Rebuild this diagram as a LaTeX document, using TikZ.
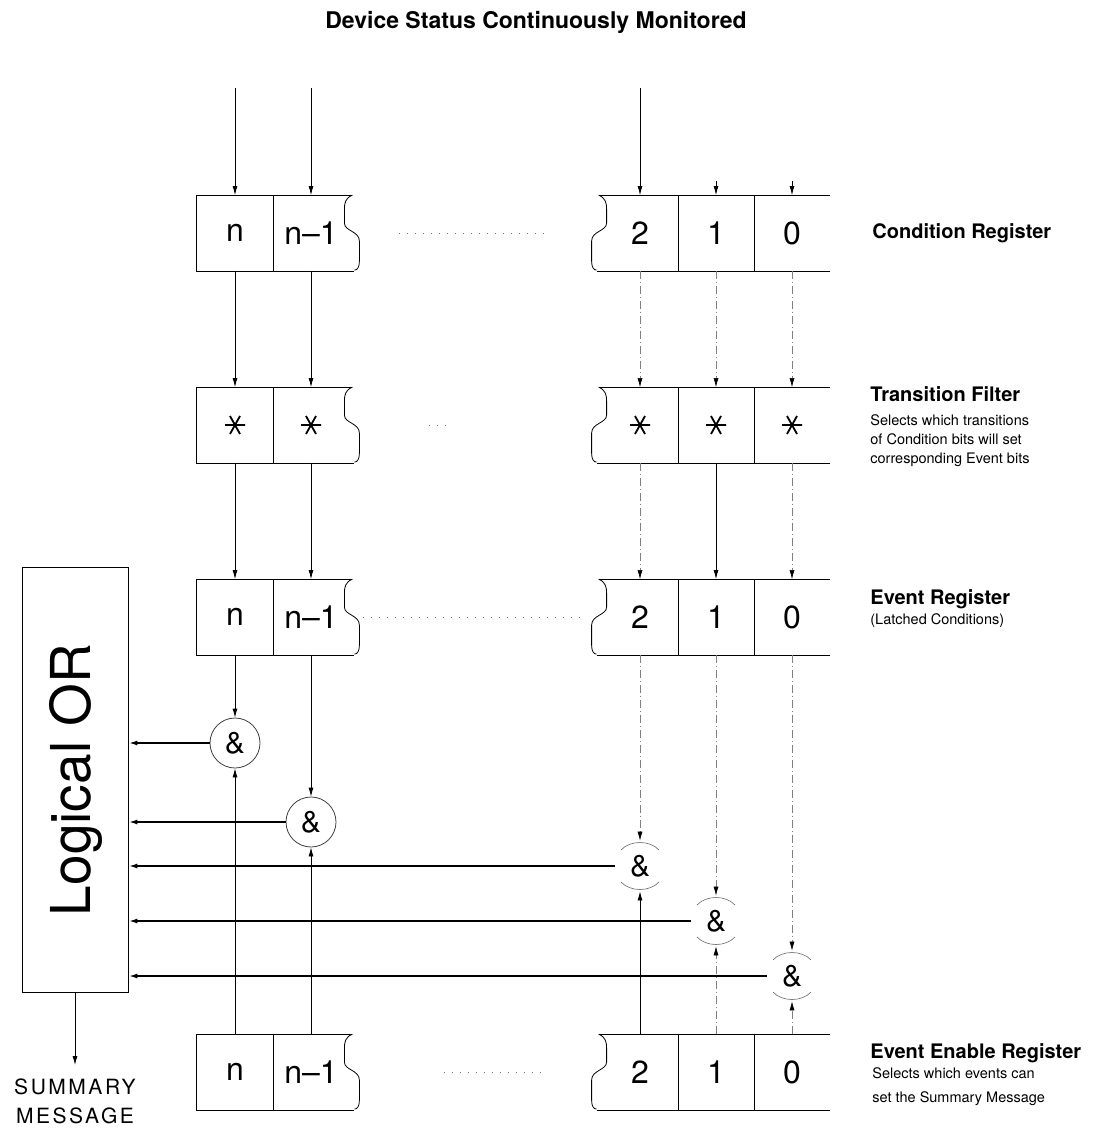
\documentclass[tikz,border=0pt]{standalone}
\usepackage{fontspec}
\setmainfont{TeX Gyre Heros}
\usetikzlibrary{arrows.meta}

\tikzset{
  cell/.style={minimum width=76pt, minimum height=75pt, inner sep=0pt, font=\fontsize{32}{32}\selectfont},
  gate/.style={circle, minimum size=50pt, inner sep=0pt, font=\fontsize{30}{30}\selectfont},
  faint/.style={black!50, line width=0.6pt, dash pattern=on 8pt off 3pt on 1pt off 3pt},
  ftip/.style={-{Latex[length=9pt,width=5pt,color=black]}},
  garc/.style={black!60, line width=0.6pt},
  dots/.style={black!55, line width=0.8pt, dash pattern=on 1pt off 7pt},
  outl/.style={line width=2pt},
  lab/.style={font=\bfseries\fontsize{20}{24}\selectfont, inner sep=0pt},
  note/.style={font=\fontsize{14.5}{19}\selectfont, inner sep=0pt, align=left},
  fstar/.pic={\draw[line width=1.8pt] (-10,0) -- (10,0) (-5,-9) -- (5,9) (5,-9) -- (-5,9);}
}

% left half of a register: cells n, n-1 and the torn edge
\newcommand{\regleft}[1]{%
  \draw ([xshift=3pt]#1-n1.north east) -- (#1-n.north west) -- (#1-n.south west) -- ([xshift=5pt]#1-n1.south east);
  \draw (#1-n.north east) -- (#1-n.south east);
  \draw[shift={(#1-n1.north east)}] (3,0) .. controls (-4,3) and (-5,8) .. (-5,14) -- (-5,28) .. controls (-5,36) and (10,36) .. (10,46) -- (10,66) .. controls (10,72) and (8,75) .. (5,75);
}
% right half of a register: cells 2, 1, 0
\newcommand{\regright}[1]{%
  \draw ([xshift=-3pt]#1-2.north west) -- (#1-0.north east);
  \draw ([xshift=-5pt]#1-2.south west) -- (#1-0.south east);
  \draw (#1-2.north east) -- (#1-2.south east) (#1-1.north east) -- (#1-1.south east);
  \draw[shift={(#1-2.north west)}, xscale=-1] (3,0) .. controls (-4,3) and (-5,8) .. (-5,14) -- (-5,28) .. controls (-5,36) and (10,36) .. (10,46) -- (10,66) .. controls (10,72) and (8,75) .. (5,75);
}

\begin{document}
\begin{tikzpicture}[x=1pt,y=-1pt,line width=0.8pt,>={Latex[length=9pt,width=5pt]}]
  \useasboundingbox (0,0) rectangle (1098,1132);

  \node[font=\bfseries\fontsize{23}{27}\selectfont] (title) at (536,22) {Device Status Continuously Monitored};

  % registers
  \foreach \r/\y in {c/233, e/617, en/1072} {
    \node[cell] (\r-n) at (235,\y) {n};
    \node[cell] (\r-n1) at (311,\y) {n--1};
    \node[cell] (\r-2) at (640,\y) {2};
    \node[cell] (\r-1) at (716,\y) {1};
    \node[cell] (\r-0) at (792,\y) {0};
  }
  \foreach \k/\x in {n/235, n1/311, 2/640, 1/716, 0/792} {
    \node[cell] (f-\k) at (\x,425) {};
    \pic at (f-\k) {fstar};
  }
  \foreach \r in {c, f, e, en} {
    \regleft{\r}
    \regright{\r}
  }

  % gaps between the halves
  \draw[dots] ([xshift=50pt]c-n1.east) -- ([xshift=-55pt]c-2.west);
  \draw[dots] ([xshift=80pt]f-n1.east) -- ([xshift=-150pt]f-2.west);
  \draw[dots] ([xshift=14pt]e-n1.east) -- ([xshift=-22pt]e-2.west);
  \draw[dots] ([xshift=95pt]en-n1.east) -- ([xshift=-57pt]en-2.west);

  % inputs
  \coordinate (in-n) at (235,88);
  \coordinate (in-n1) at (311,88);
  \coordinate (in-2) at (640,88);
  \foreach \k in {n, n1, 2} \draw[->] (in-\k) -- (c-\k.north);
  \foreach \k in {1, 0} \draw[->] ([yshift=14pt]c-\k.north) -- (c-\k.north);

  % columns
  \foreach \k in {n, n1} {
    \draw[->] (c-\k) -- (f-\k);
    \draw[->] (f-\k) -- (e-\k);
  }
  \foreach \k in {2, 1, 0} \draw[faint,ftip] (c-\k) -- (f-\k);
  \draw[faint,ftip] (f-2) -- (e-2);
  \draw[->] (f-1) -- (e-1);
  \draw[faint,ftip] (f-0) -- (e-0);

  % and gates
  \node[gate, draw, black!75] (g1) at (235,743) {\color{black}\&};
  \node[gate, draw, black!75] (g2) at (311,822) {\color{black}\&};
  \node[gate] (g3) at (640,866) {\&};
  \node[gate] (g4) at (716,921) {\&};
  \node[gate] (g5) at (792,976) {\&};
  \foreach \g in {g3, g4, g5} {
    \draw[garc] ([xshift=-19pt,yshift=16pt]\g.center) .. controls ([xshift=-10pt,yshift=26pt]\g.center) and ([xshift=10pt,yshift=26pt]\g.center) .. ([xshift=19pt,yshift=16pt]\g.center);
    \draw[garc] ([xshift=-19pt,yshift=-16pt]\g.center) .. controls ([xshift=-10pt,yshift=-26pt]\g.center) and ([xshift=10pt,yshift=-26pt]\g.center) .. ([xshift=19pt,yshift=-16pt]\g.center);
  }
  \draw[->] (e-n) -- (g1);
  \draw[->] (e-n1) -- (g2);
  \draw[->] (en-n) -- (g1);
  \draw[->] (en-n1) -- (g2);
  \draw[faint,ftip] (e-2) -- (g3);
  \draw[faint,ftip] (e-1) -- (g4);
  \draw[faint,ftip] (e-0) -- (g5);
  \draw[->] (en-2) -- (g3);
  \draw[faint,ftip] (en-1) -- (g4);
  \draw[faint,ftip] (en-0) -- (g5);

  % logical or
  \node[draw, minimum width=106pt, minimum height=425pt, inner sep=0pt] (or) at (75,780) {};
  \node[rotate=90, font=\fontsize{55}{55}\selectfont] (or-txt) at ([xshift=1pt]or.center) {Logical OR};
  \foreach \g in {g1, g2, g3, g4, g5} \draw[outl,->] (\g.west) -- (\g.west -| or.east);
  \node[font=\fontsize{21}{29}\selectfont\addfontfeature{LetterSpace=12}, align=center, anchor=north, inner sep=0pt] (summ) at (75,1078) {SUMMARY\\MESSAGE};
  \draw[->] (or.south) -- ([yshift=13pt]summ.north);

  % labels
  \node[lab, anchor=base west] (c-lab) at (872,238) {Condition Register};
  \node[lab, anchor=base west] (f-lab) at (870,401) {Transition Filter};
  \node[note, anchor=north west] (f-note) at (870,414) {Selects which transitions\\of Condition bits will set\\corresponding Event bits};
  \node[lab, anchor=base west] (e-lab) at (870,604) {Event Register};
  \node[note, anchor=base west] (e-note) at (870,624) {(Latched Conditions)};
  \node[lab, anchor=base west] (en-lab) at (870,1058) {Event Enable Register};
  \node[note, anchor=north west, font=\fontsize{14.5}{24}\selectfont] (en-note) at (872,1067) {Selects which events can\\set the Summary Message};
\end{tikzpicture}
\end{document}
